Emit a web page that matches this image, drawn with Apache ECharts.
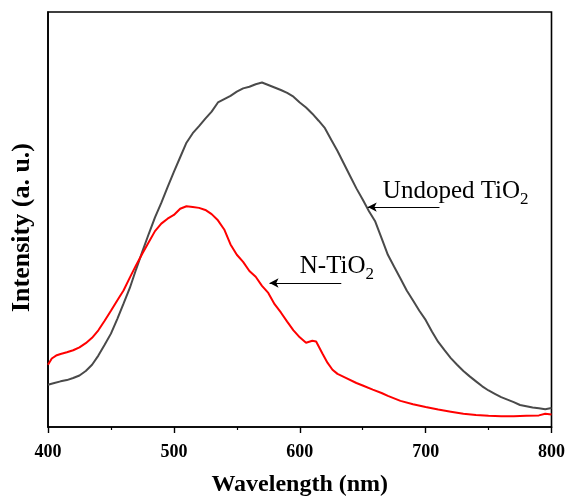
<!DOCTYPE html>
<html>
<head>
<meta charset="utf-8">
<script src="https://cdn.jsdelivr.net/npm/echarts@6/dist/echarts.min.js"></script>
<style>html,body{margin:0;padding:0;background:#fff}#c{width:568px;height:502px}</style>
</head>
<body>
<div id="c"></div>
<script>
// Undoped TiO2 spectrum
const undopedWavelength = [400,405,410,415,420,425,430,435,440,445,450,455,460,465,470,475,480,485,490,495,500,505,510,515,520,525,530,535,540,545,550,555,560,565,570,575,580,585,590,595,600,605,610,615,620,625,630,635,640,645,650,655,660,665,670,675,680,685,690,695,700,705,710,715,720,725,730,735,740,745,750,755,760,765,770,775,780,785,790,795,800];
const undopedIntensity = [10.2,10.6,11.0,11.3,11.8,12.4,13.5,15.0,17.2,19.8,22.5,26.0,29.7,33.5,38.0,42.3,46.5,50.5,54.0,57.8,61.5,65.0,68.5,70.8,72.5,74.3,76.0,78.2,79.0,79.8,80.8,81.6,82.0,82.6,83.0,82.4,81.8,81.2,80.5,79.6,78.2,77.0,75.5,73.8,72.0,69.2,66.5,63.5,60.5,57.5,54.8,52.0,49.5,45.5,41.5,38.6,35.8,32.9,30.5,28.0,25.8,23.0,20.5,18.5,16.6,15.0,13.5,12.2,11.0,9.8,8.8,8.0,7.2,6.6,6.0,5.3,5.0,4.7,4.5,4.3,4.6];
// N-TiO2 spectrum
const nWavelength = [400,403,407,410,415,420,425,430,435,440,445,450,455,460,465,470,475,480,485,490,495,500,505,510,515,520,525,530,535,540,545,550,555,560,565,570,575,580,585,590,595,600,605,610,613,618,622,626,630,637,645,650,658,665,670,680,690,700,710,720,730,740,750,760,770,780,790,795,800];
const nIntensity = [15.0,16.5,17.3,17.6,18.0,18.5,19.2,20.2,21.5,23.3,25.6,28.0,30.5,32.9,36.0,39.0,41.8,44.5,47.2,49.0,50.2,51.1,52.6,53.2,53.0,52.8,52.3,51.3,49.8,47.6,44.0,41.5,39.8,37.6,36.2,34.0,32.3,29.6,27.6,25.4,23.3,21.6,20.3,20.8,20.6,17.7,15.5,13.8,12.8,11.8,10.6,10.0,9.0,8.2,7.5,6.3,5.5,4.8,4.2,3.7,3.2,2.9,2.7,2.6,2.6,2.7,2.8,3.2,3.0];
const xTicks = [400,500,600,700,800];
const labels = ['Undoped TiO', 'N-TiO'];
const subscript = '2';

const serif = '"Liberation Serif","Times New Roman",serif';
const chart = echarts.init(document.getElementById('c'), null, {renderer:'canvas'});

function pairs(xs, ys){ return xs.map((x,i)=>[x, ys[i]]); }

const option = {
  animation: false,
  backgroundColor: '#fff',
  grid: {left:48, right:15, top:12, bottom:71, show:true, borderColor:'#000', borderWidth:1.6},
  xAxis: {
    type:'value', min:xTicks[0], max:xTicks[xTicks.length-1], interval:100,
    name:'Wavelength (nm)', nameLocation:'middle', nameGap:46,
    nameTextStyle:{fontFamily:serif, fontWeight:'bold', fontSize:24, color:'#000'},
    axisLine:{show:true, lineStyle:{color:'#000', width:1.6}},
    axisTick:{show:true, inside:false, length:6, lineStyle:{color:'#000', width:1.4}},
    minorTick:{show:true, splitNumber:2, length:3, lineStyle:{color:'#000', width:1.2}},
    axisLabel:{fontFamily:serif, fontWeight:'bold', fontSize:18, color:'#000', margin:16},
    splitLine:{show:false}
  },
  yAxis: {
    type:'value', min:0, max:100,
    name:'Intensity (a. u.)', nameLocation:'middle', nameGap:13, nameRotate:90,
    nameTextStyle:{fontFamily:serif, fontWeight:'bold', fontSize:26, color:'#000', padding:[0,16,0,0]},
    axisLine:{show:true, lineStyle:{color:'#000', width:1.6}},
    axisTick:{show:false}, axisLabel:{show:false}, splitLine:{show:false}
  },
  series: [
    {
      type:'line', name:labels[0], data:pairs(undopedWavelength, undopedIntensity),
      symbol:'none', smooth:false, lineStyle:{color:'#4a4a4a', width:2},
      markLine:{
        silent:true, symbol:['none','arrow'], symbolSize:[7,9],
        lineStyle:{color:'#000', width:1, type:'solid'}, label:{show:false},
        data:[[{coord:[711,53]},{coord:[654,53]}]]
      }
    },
    {
      type:'line', name:labels[1], data:pairs(nWavelength, nIntensity),
      symbol:'none', smooth:false, lineStyle:{color:'#ff0000', width:2},
      markLine:{
        silent:true, symbol:['none','arrow'], symbolSize:[7,9],
        lineStyle:{color:'#000', width:1, type:'solid'}, label:{show:false},
        data:[[{coord:[633,34.7]},{coord:[576,34.7]}]]
      }
    }
  ]
};
chart.setOption(option);

const measureCtx = document.createElement('canvas').getContext('2d');
function labelAt(x, y, main){
  const p = chart.convertToPixel({gridIndex:0}, [x, y]);
  measureCtx.font = '25px ' + serif;
  const w = measureCtx.measureText(main).width;
  return [
    {type:'text', x:p[0], y:p[1], style:{text:main, fontFamily:serif, fontSize:25, fill:'#000', verticalAlign:'middle', align:'left'}},
    {type:'text', x:p[0] + w, y:p[1] + 8, style:{text:subscript, fontFamily:serif, fontSize:17, fill:'#000', verticalAlign:'middle', align:'left'}}
  ];
}
chart.setOption({graphic:[].concat(labelAt(666, 56.8, labels[0]), labelAt(600, 38.7, labels[1]))});
</script>
</body>
</html>
